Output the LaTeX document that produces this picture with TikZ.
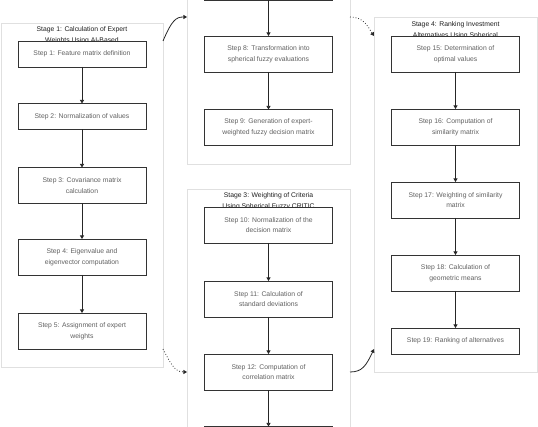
\documentclass[tikz,border=0pt]{standalone}
\usepackage{fontspec}
\setmainfont{Liberation Sans}
\usetikzlibrary{arrows.meta,positioning,shapes,calc}

\tikzset{
  stage/.style={draw=black!12, line width=0.8pt, fill=white, inner sep=0pt, outer sep=0pt},
  stepbox/.style={draw=black!80, line width=0.9pt, fill=white, inner sep=0pt, outer sep=0pt,
    minimum width=128pt, minimum height=36pt, align=center, text=black!62,
    font=\fontsize{6.8}{10.7}\selectfont},
  short/.style={minimum height=26pt},
  title/.style={align=center, text=black!88, inner sep=0pt, font=\fontsize{6.8}{10.6}\selectfont},
  link/.style={black!85, line width=0.8pt},
  >={Triangle[length=3.6pt,width=4pt]}
}

\begin{document}
\begin{tikzpicture}[x = 1pt, y = -1pt]
\useasboundingbox (0,0) rectangle (538,427);
\clip (0,0) rectangle (538,427);

% stage frames
\node[stage, minimum width=162pt, minimum height=344pt] (G1) at (82, 195) {};
\node[stage, minimum width=163pt, minimum height=184pt] (G2) at (268.5, 72) {};
\node[stage, minimum width=163pt, minimum height=261pt] (G3) at (268.5, 319.5) {};
\node[stage, minimum width=163pt, minimum height=355pt] (G4) at (455.5, 194.5) {};

\node[title] (T1) at (82, 35) {Stage 1: Calculation of Expert\\Weights Using AI-Based};
\node[title] (T3) at (268.5, 201.5) {Stage 3: Weighting of Criteria\\Using Spherical Fuzzy CRITIC};
\node[title] (T4) at (455.5, 30.5) {Stage 4: Ranking Investment\\Alternatives Using Spherical};

% stage 1
\node[stepbox, short] (S1) at (82, 54) {Step 1: Feature matrix definition};
\node[stepbox, short] (S2) at (82, 116.5) {Step 2: Normalization of values};
\node[stepbox] (S3) at (82, 185.5) {Step 3: Covariance matrix\\calculation};
\node[stepbox] (S4) at (82, 257) {Step 4: Eigenvalue and\\eigenvector computation};
\node[stepbox] (S5) at (82, 331) {Step 5: Assignment of expert\\weights};

% stage 2
\node[stepbox] (S7) at (268.5, -18) {};
\node[stepbox] (S8) at (268.5, 54) {Step 8: Transformation into\\spherical fuzzy evaluations};
\node[stepbox] (S9) at (268.5, 127.5) {Step 9: Generation of expert-\\weighted fuzzy decision matrix};

% stage 3
\node[stepbox] (S10) at (268.5, 225) {Step 10: Normalization of the\\decision matrix};
\node[stepbox] (S11) at (268.5, 299) {Step 11: Calculation of\\standard deviations};
\node[stepbox] (S12) at (268.5, 372) {Step 12: Computation of\\correlation matrix};
\node[stepbox] (S13) at (268.5, 444.5) {};

% stage 4
\node[stepbox] (S15) at (455.5, 54) {Step 15: Determination of\\optimal values};
\node[stepbox] (S16) at (455.5, 127) {Step 16: Computation of\\similarity matrix};
\node[stepbox] (S17) at (455.5, 200) {Step 17: Weighting of similarity\\matrix};
\node[stepbox] (S18) at (455.5, 273) {Step 18: Calculation of\\geometric means};
\node[stepbox, short] (S19) at (455.5, 341) {Step 19: Ranking of alternatives};

\draw[->, link] (S1) -- (S2);
\draw[->, link] (S2) -- (S3);
\draw[->, link] (S3) -- (S4);
\draw[->, link] (S4) -- (S5);

\draw[->, link] (S7) -- (S8);
\draw[->, link] (S8) -- (S9);

\draw[->, link] (S10) -- (S11);
\draw[->, link] (S11) -- (S12);
\draw[->, link] (S12) -- (S13);

\draw[->, link] (S15) -- (S16);
\draw[->, link] (S16) -- (S17);
\draw[->, link] (S17) -- (S18);
\draw[->, link] (S18) -- (S19);

% between stages
\draw[->, link] (G1.east |- S1.north) .. controls (172, 20) and (176, 17) .. (G2.west |- G4.north);
\draw[->, link, dotted] (G2.east |- G4.north) .. controls (364, 17) and (368, 27) .. (G4.west |- S15.north);
\draw[->, link, dotted] (G1.east |- S5.south) .. controls (170, 362) and (174, 372) .. (G3.west |- S12);
\draw[->, link] (G3.east |- S12) .. controls (362, 372) and (366, 366) .. ($(G4.west |- S19.south)+(0,-5)$);

\end{tikzpicture}
\end{document}
